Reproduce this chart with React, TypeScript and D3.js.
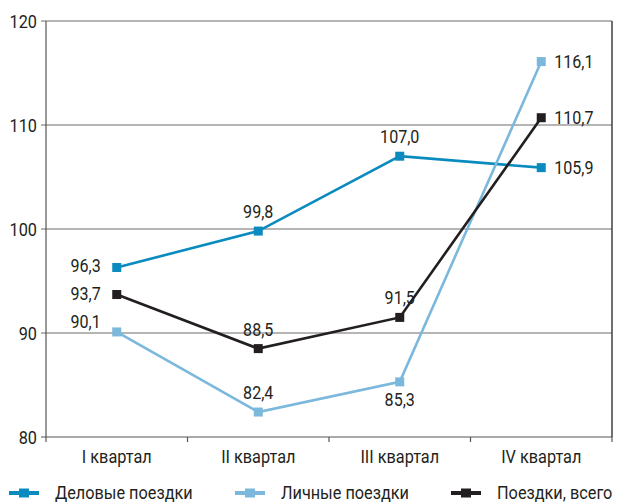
import React from "react";
import * as d3 from "d3";

const categories = ["I квартал", "II квартал", "III квартал", "IV квартал"];
const seriesNames = ["Деловые поездки", "Личные поездки", "Поездки, всего"];
const business = [96.3, 99.8, 107.0, 105.9];
const personal = [90.1, 82.4, 85.3, 116.1];
const total = [93.7, 88.5, 91.5, 110.7];
const yTicks = [80, 90, 100, 110, 120];
const colors = ["#0a8bbf", "#7bb8dc", "#231f20"];
// label placement per point: l = left, t = top, b = bottom, r = right, lt = left-top
const businessPos = ["l", "t", "t", "r"];
const personalPos = ["lt", "t", "b", "r"];
const totalPos = ["l", "t", "t", "r"];

const W = 624, H = 504;
const left = 46, right = 612, top = 21, bottom = 437;
const font = "Roboto, 'Liberation Sans', sans-serif";

type Anchor = "start" | "middle" | "end";
function T({ x, y, anchor = "start", size = 18.5, sx = 0.88, children }:
  { x: number; y: number; anchor?: Anchor; size?: number; sx?: number; children: React.ReactNode }) {
  return (
    <text transform={`translate(${x},${y}) scale(${sx},1)`} textAnchor={anchor} fontSize={size}
      fill="#231f20" fontFamily={font}>{children}</text>
  );
}

export default function App() {
  const x = d3.scaleBand<string>().domain(categories).range([left, right]);
  const y = d3.scaleLinear().domain([80, 120]).range([bottom, top]);
  const cx = (c: string) => (x(c) as number) + x.bandwidth() / 2;
  const line = d3.line<number>().x((_, i) => cx(categories[i])).y((v) => y(v));
  const fmt = (v: number) => v.toFixed(1).replace(".", ",");
  const series = [
    { vals: business, pos: businessPos },
    { vals: personal, pos: personalPos },
    { vals: total, pos: totalPos },
  ];
  const legendX = [9, 235, 451];

  const label = (v: number, i: number, p: string, key: string) => {
    const px = cx(categories[i]);
    const py = y(v);
    let tx = px, ty = py, anchor: Anchor = "middle";
    if (p === "l") { tx = px - 16; ty = py + 5; anchor = "end"; }
    else if (p === "lt") { tx = px - 16; ty = py - 4; anchor = "end"; }
    else if (p === "t") { ty = py - 13; }
    else if (p === "b") { ty = py + 24; }
    else if (p === "r") { tx = px + 13; ty = py + 6; anchor = "start"; }
    return <T key={key} x={tx} y={ty} anchor={anchor} size={17.5} sx={0.92}>{fmt(v)}</T>;
  };

  return (
    <svg width={W} height={H} style={{ position: "absolute", left: 0, top: 0 }}>
      <rect width={W} height={H} fill="#fff" />
      {yTicks.map((t) => (
        <g key={t}>
          <line x1={left - 5} x2={right} y1={y(t)} y2={y(t)}
            stroke={t === 80 ? "#555" : "#6d6d6d"} strokeWidth={1.2} />
          <T x={left - 9} y={y(t) + 7} anchor="end">{t}</T>
        </g>
      ))}
      <line x1={left} x2={left} y1={top} y2={bottom} stroke="#555" strokeWidth={1.2} />
      <line x1={right} x2={right} y1={top} y2={bottom} stroke="#333" strokeWidth={1.4} />
      {[...categories.map((c) => x(c) as number), right].map((tx, i) => (
        <line key={i} x1={tx} x2={tx} y1={bottom} y2={bottom + 5} stroke="#555" strokeWidth={1.2} />
      ))}
      {categories.map((c) => (
        <T key={c} x={cx(c)} y={463} anchor="middle">{c}</T>
      ))}
      {series.map((s, si) => (
        <g key={si}>
          <path d={line(s.vals) as string} fill="none" stroke={colors[si]} strokeWidth={2.6} />
          {s.vals.map((v, i) => (
            <rect key={i} x={cx(categories[i]) - 4.5} y={y(v) - 4.5} width={9} height={9} fill={colors[si]} />
          ))}
          {s.vals.map((v, i) => label(v, i, s.pos[i], `l${si}-${i}`))}
        </g>
      ))}
      {seriesNames.map((n, i) => (
        <g key={n}>
          <line x1={legendX[i]} x2={legendX[i] + 30} y1={493} y2={493} stroke={colors[i]} strokeWidth={4} />
          <rect x={legendX[i] + 10} y={488.5} width={10} height={9} fill={colors[i]} />
          <T x={legendX[i] + 46} y={499}>{n}</T>
        </g>
      ))}
    </svg>
  );
}
